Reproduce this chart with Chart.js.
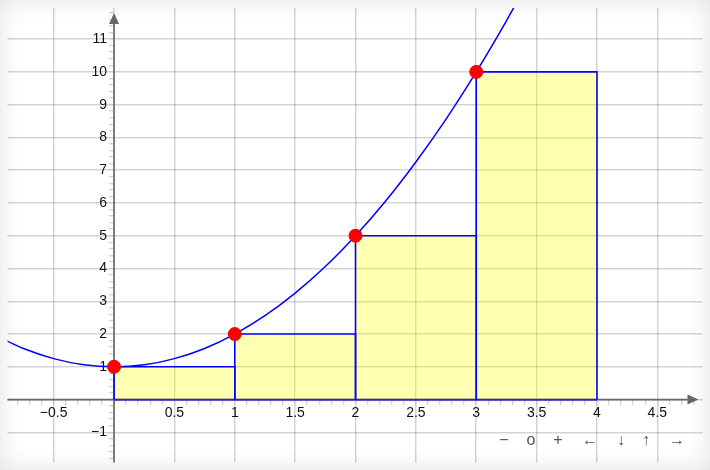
<!DOCTYPE html>
<html>
<head>
<meta charset="utf-8">
<script src="https://cdn.jsdelivr.net/npm/chart.js@4"></script>
<style>
html, body { margin: 0; padding: 0; background: #fff; }
#board { position: relative; width: 710px; height: 470px; box-shadow: inset 0 0 24px rgba(0,0,0,0.12); }
#board canvas { position: absolute; left: 0; top: 0; }
#nav { position: absolute; left: 0; top: 431px; font: 16px 'Liberation Sans', Arial, sans-serif; color: #555; }
#nav span { position: absolute; transform: translateX(-50%); white-space: nowrap; }
</style>
</head>
<body>
<div id="board">
  <canvas id="chart" width="710" height="470"></canvas>
  <div id="nav">
    <span style="left:504px">−</span>
    <span style="left:531px">o</span>
    <span style="left:558px">+</span>
    <span style="left:590px">←</span>
    <span style="left:621px">↓</span>
    <span style="left:646px">↑</span>
    <span style="left:677px">→</span>
  </div>
</div>
<script>
// curve y = x² + 1
const curveX = [-0.9, -0.75, -0.5, -0.25, 0, 0.25, 0.5, 0.75, 1, 1.25, 1.5, 1.75, 2, 2.25, 2.5, 2.75, 3, 3.25, 3.4];
const curveY = [1.81, 1.56, 1.25, 1.06, 1, 1.06, 1.25, 1.56, 2, 2.56, 3.25, 4.06, 5, 6.06, 7.25, 8.56, 10, 11.56, 12.56];

// red points
const pointX = [0, 1, 2, 3];
const pointY = [1, 2, 5, 10];

// yellow rectangles
const rectLeft = [0, 1, 2, 3];
const rectRight = [1, 2, 3, 4];
const rectHeight = [1, 2, 5, 10];

// axis labels
const xTickValues = [-0.5, 0.5, 1, 1.5, 2, 2.5, 3, 3.5, 4, 4.5];
const xTickLabels = ['−0.5', '0.5', '1', '1.5', '2', '2.5', '3', '3.5', '4', '4.5'];
const yTickValues = [-1, 1, 2, 3, 4, 5, 6, 7, 8, 9, 10, 11];
const yTickLabels = ['−1', '1', '2', '3', '4', '5', '6', '7', '8', '9', '10', '11'];

const X_MIN = -0.8825, X_MAX = 4.874, Y_MIN = -1.92, Y_MAX = 11.95;

const gridColor = 'rgba(0,0,0,0.17)';
const minorTickColor = '#c4c4c4';
const rectStroke = '#0000ff';
const font = { family: "'Liberation Sans', Arial, sans-serif", size: 14 };

function near(a, b) { return Math.abs(a - b) < 1e-6; }
function isMajorX(v) { return near(v * 2, Math.round(v * 2)); }
function isMajorY(v) { return near(v, Math.round(v)); }

// each rectangle: left side, top, right side, filled down to y = 0
const rectSets = rectLeft.map((l, i) => ({
  type: 'line',
  data: [
    { x: l, y: 0 }, { x: l, y: rectHeight[i] },
    { x: rectRight[i], y: rectHeight[i] }, { x: rectRight[i], y: 0 }
  ],
  fill: 'origin',
  backgroundColor: 'rgba(255,255,0,0.3)',
  borderColor: rectStroke,
  borderWidth: 1.6,
  pointRadius: 0,
  tension: 0,
  yAxisID: 'y',
  order: 3
}));

// common bottom edge of the rectangles
const baseSet = {
  type: 'line',
  data: [{ x: rectLeft[0], y: 0 }, { x: rectRight[rectRight.length - 1], y: 0 }],
  fill: false,
  borderColor: rectStroke,
  borderWidth: 1.6,
  pointRadius: 0,
  yAxisID: 'y',
  order: 3
};

const axesPlugin = {
  id: 'axes',
  beforeDatasetsDraw(chart) {
    const { ctx, chartArea: a, scales: { x, y } } = chart;
    const x0 = x.getPixelForValue(0);
    const y0 = y.getPixelForValue(0);
    const tipX = a.right - 4, tipY = a.top + 5;
    ctx.save();
    ctx.strokeStyle = '#666';
    ctx.fillStyle = '#666';
    ctx.lineWidth = 1.6;
    ctx.beginPath();
    ctx.moveTo(a.left, y0); ctx.lineTo(tipX - 6, y0);
    ctx.moveTo(x0, a.bottom); ctx.lineTo(x0, tipY + 6);
    ctx.stroke();
    ctx.beginPath();
    ctx.moveTo(tipX, y0); ctx.lineTo(tipX - 11, y0 - 5); ctx.lineTo(tipX - 11, y0 + 5); ctx.closePath();
    ctx.moveTo(x0, tipY); ctx.lineTo(x0 - 5, tipY + 11); ctx.lineTo(x0 + 5, tipY + 11); ctx.closePath();
    ctx.fill();
    ctx.restore();
  }
};

function zeroPadding(s) { s.paddingTop = 0; s.paddingBottom = 0; s.paddingLeft = 0; s.paddingRight = 0; }

new Chart(document.getElementById('chart'), {
  type: 'scatter',
  data: {
    datasets: [
      {
        data: pointX.map((x, i) => ({ x, y: pointY[i] })),
        pointRadius: 6.5,
        pointBackgroundColor: '#ff0000',
        pointBorderColor: '#f00000',
        pointBorderWidth: 1,
        yAxisID: 'y',
        order: 1
      },
      {
        type: 'line',
        data: curveX.map((x, i) => ({ x, y: curveY[i] })),
        cubicInterpolationMode: 'monotone',
        borderColor: '#0000ff',
        borderWidth: 1.5,
        pointRadius: 0,
        fill: false,
        yAxisID: 'y',
        order: 2
      },
      ...rectSets,
      baseSet
    ]
  },
  options: {
    responsive: false,
    animation: false,
    devicePixelRatio: 1,
    layout: { padding: { left: 5, top: 8, right: 7, bottom: 7 } },
    plugins: { legend: { display: false }, tooltip: { enabled: false } },
    scales: {
      x: {
        type: 'linear',
        position: { y: 0 },
        min: X_MIN,
        max: X_MAX,
        afterFit: zeroPadding,
        border: { display: false },
        grid: {
          color: c => isMajorX(c.tick.value) ? gridColor : 'transparent',
          lineWidth: 1.5,
          tickColor: minorTickColor,
          tickWidth: 1,
          tickLength: 5,
          drawTicks: true
        },
        ticks: {
          stepSize: 0.1,
          includeBounds: false,
          autoSkip: false,
          maxRotation: 0,
          minRotation: 0,
          padding: 0,
          color: '#111',
          font,
          callback: v => {
            const i = xTickValues.findIndex(t => near(t, v));
            return i >= 0 ? xTickLabels[i] : '';
          }
        }
      },
      y: {
        type: 'linear',
        position: { x: 0 },
        min: Y_MIN,
        max: Y_MAX,
        afterFit: zeroPadding,
        border: { display: false },
        grid: {
          color: c => isMajorY(c.tick.value) ? gridColor : 'transparent',
          lineWidth: 1.5,
          tickColor: minorTickColor,
          tickWidth: 1,
          tickLength: 5,
          drawTicks: true
        },
        ticks: {
          stepSize: 0.2,
          includeBounds: false,
          autoSkip: false,
          font,
          callback: () => ''
        }
      },
      // label-only axis, set 7px left of the y axis
      yLabels: {
        type: 'linear',
        axis: 'y',
        position: { x: -7 * (X_MAX - X_MIN) / 698 },
        min: Y_MIN,
        max: Y_MAX,
        afterFit: zeroPadding,
        border: { display: false },
        grid: { display: false },
        ticks: {
          stepSize: 1,
          includeBounds: false,
          autoSkip: false,
          color: '#111',
          font,
          callback: v => {
            const i = yTickValues.findIndex(t => near(t, v));
            return i >= 0 ? yTickLabels[i] : '';
          }
        }
      }
    }
  },
  plugins: [axesPlugin]
});
</script>
</body>
</html>
